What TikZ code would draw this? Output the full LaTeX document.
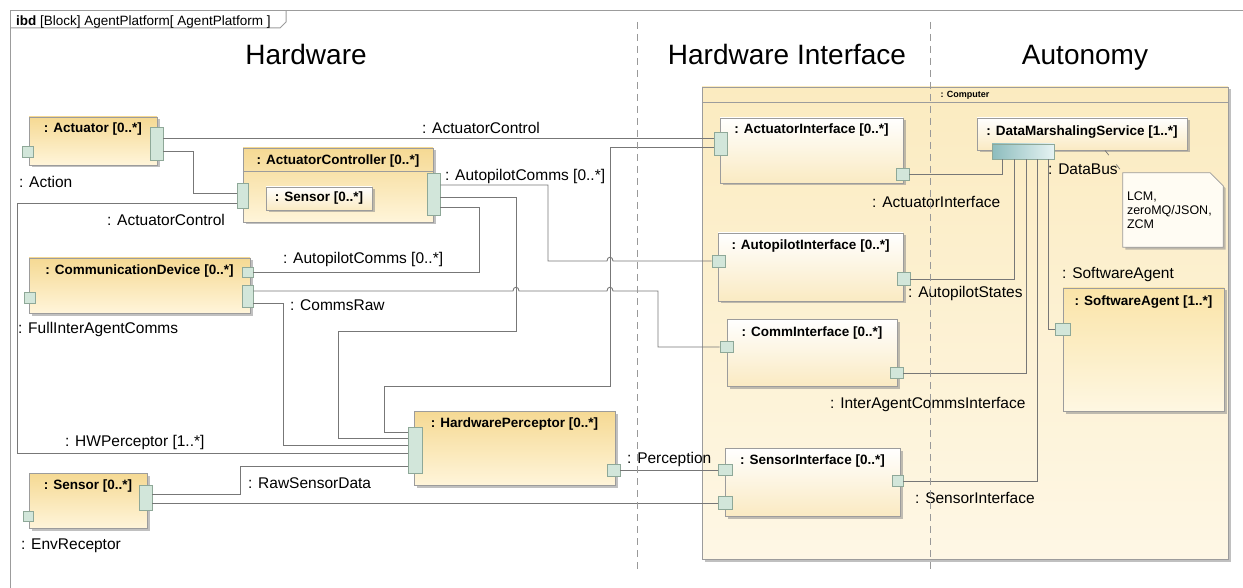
\documentclass[tikz,border=0pt]{standalone}
\usepackage{fontspec}
\setmainfont{Liberation Sans}
\usetikzlibrary{shadows}

\definecolor{edgegray}{HTML}{9C9C9C}
\definecolor{wiregray}{HTML}{777777}
\definecolor{hwtop}{HTML}{F5D993}
\definecolor{hwbottom}{HTML}{FFF5DA}
\definecolor{swtop}{HTML}{FAE4A8}
\definecolor{swbottom}{HTML}{FEF7E2}
\definecolor{comptop}{HTML}{FBEBC0}
\definecolor{compbottom}{HTML}{FEF7E5}
\definecolor{iftop}{HTML}{FFFFFF}
\definecolor{ifbottom}{HTML}{FAEAC2}
\definecolor{portfill}{HTML}{D2E6DA}
\definecolor{portedge}{HTML}{8EA898}
\definecolor{busdark}{HTML}{8CBCBD}
\definecolor{buslight}{HTML}{E6F3F3}
\definecolor{notefill}{HTML}{FFFCF3}

\tikzset{
  diagframe/.style={draw=edgegray, line width=1pt},
  divider/.style={draw=gray!80, line width=0.8pt, dash pattern=on 7pt off 5pt},
  boxshadow/.style={drop shadow={shadow xshift=2.5pt, shadow yshift=-2.5pt, fill=black!45, opacity=0.55}},
  hwblock/.style={draw=edgegray, line width=0.8pt, top color=hwtop, bottom color=hwbottom, boxshadow, inner sep=0pt},
  swblock/.style={draw=edgegray, line width=0.8pt, top color=swtop, bottom color=swbottom, boxshadow, inner sep=0pt},
  ifblock/.style={draw=edgegray, line width=0.8pt, top color=iftop, bottom color=ifbottom, boxshadow, inner sep=0pt},
  compblock/.style={draw=edgegray, line width=0.8pt, top color=comptop, bottom color=compbottom, boxshadow, inner sep=0pt},
  port/.style={draw=portedge, fill=portfill, line width=0.6pt, minimum width=11, minimum height=11, inner sep=0pt},
  busport/.style={draw=portedge, left color=busdark, right color=buslight, line width=0.6pt, inner sep=0pt},
  wire/.style={draw=wiregray, line width=0.9pt},
  blocktitle/.style={anchor=base, inner sep=0pt, font=\bfseries\fontsize{13.5}{16}\selectfont},
  lbl/.style={anchor=base west, inner sep=0pt, font=\fontsize{15.5}{18}\selectfont},
  section/.style={anchor=base, inner sep=0pt, font=\fontsize{28}{32}\selectfont},
}

\begin{document}
\begin{tikzpicture}[x=1pt, y=-1pt]
  \useasboundingbox (0,0) rectangle (1243,588);

  % frame and tab
  \draw[diagframe] (10,588) -- (10,11) -- (1243,11);
  \draw[diagframe] (10,28) -- (280,28) -- (286,22) -- (286,11);
  \node[anchor=base west, inner sep=0pt, font=\fontsize{13.5}{16}\selectfont] (tab) at (16,25.5)
    {\textbf{ibd} [Block] AgentPlatform[ AgentPlatform ]};

  % column headings
  \node[section] (hw) at (306,65) {Hardware};
  \node[section] (hwif) at (787,65) {Hardware Interface};
  \node[section] (auto) at (1085,65) {Autonomy};

  % computer part
  \node[compblock, minimum width=526, minimum height=472] (computer) at (965,323) {};
  \draw[draw=edgegray, line width=0.8pt] (computer.west |- 0,102) -- (computer.east |- 0,102);
  \node[anchor=base, inner sep=0pt, font=\bfseries\fontsize{9}{11}\selectfont] at ([yshift=-11]computer.north) {: Computer};

  % hardware parts
  \node[hwblock, minimum width=128, minimum height=48] (actuator) at (93,141) {};
  \node[blocktitle] at ([yshift=-16]actuator.north) {: Actuator [0..*]};
  \node[hwblock, minimum width=190, minimum height=74] (actctrl) at (338,185) {};
  \draw[draw=edgegray, line width=0.8pt] (actctrl.west |- 0,171) -- (actctrl.east |- 0,171);
  \node[blocktitle] at ([yshift=-16.5]actctrl.north) {: ActuatorController [0..*]};
  \node[ifblock, minimum width=106, minimum height=23, font=\bfseries\fontsize{13.5}{16}\selectfont] (ctrlsensor) at (319,198.5) {: Sensor [0..*]};
  \node[hwblock, minimum width=221, minimum height=55] (commdev) at (139.5,285.5) {};
  \node[blocktitle] at ([yshift=-16.5]commdev.north) {: CommunicationDevice [0..*]};
  \node[hwblock, minimum width=201, minimum height=74] (hwperc) at (514.5,448) {};
  \node[blocktitle] at ([yshift=-16.5]hwperc.north) {: HardwarePerceptor [0..*]};
  \node[hwblock, minimum width=118, minimum height=55] (sensor) at (88,500.5) {};
  \node[blocktitle] at ([yshift=-16.5]sensor.north) {: Sensor [0..*]};

  % interface parts
  \node[ifblock, minimum width=183, minimum height=65] (actif) at (811.5,150.5) {};
  \node[blocktitle] at ([yshift=-15.5]actif.north) {: ActuatorInterface [0..*]};
  \node[ifblock, minimum width=185, minimum height=68] (apif) at (810.5,267) {};
  \node[blocktitle] at ([yshift=-16.5]apif.north) {: AutopilotInterface [0..*]};
  \node[ifblock, minimum width=170, minimum height=67] (commif) at (812,352.5) {};
  \node[blocktitle] at ([yshift=-17.5]commif.north) {: CommInterface [0..*]};
  \node[ifblock, minimum width=175, minimum height=68] (sensif) at (812.5,482) {};
  \node[blocktitle] at ([yshift=-16.5]sensif.north) {: SensorInterface [0..*]};

  % autonomy parts
  \node[ifblock, minimum width=210, minimum height=32] (dms) at (1082,134) {};
  \node[blocktitle] at ([yshift=-17.5]dms.north) {: DataMarshalingService [1..*]};
  \node[swblock, minimum width=161, minimum height=123] (swagent) at (1143.5,349.5) {};
  \node[blocktitle] at ([yshift=-17.5]swagent.north) {: SoftwareAgent [1..*]};

  % note on the data bus
  \node[minimum width=100, minimum height=74, inner sep=0pt] (note) at (1173,210) {};
  \filldraw[draw=edgegray, fill=notefill, line width=0.8pt, boxshadow]
    (note.south west) -- (note.north west) -- ([xshift=-13]note.north east)
    -- ([yshift=-13]note.north east) -- (note.south east) -- cycle;
  \node[anchor=north west, inner sep=0pt, align=left, font=\fontsize{12.5}{14}\selectfont] (notetext)
    at ([xshift=4, yshift=-19]note.north west) {LCM,\\zeroMQ/JSON,\\ZCM};

  % ports
  \node[port] (pActL) at (28,152) {};
  \node[port, minimum width=13, minimum height=33] (pActR) at (156.5,143.5) {};
  \node[port, minimum height=25] (pCtrlL) at (242.5,195.5) {};
  \node[port, minimum width=13, minimum height=42] (pCtrlR) at (433.5,194) {};
  \node[port, minimum height=10] (pCommT) at (247.5,272) {};
  \node[port, minimum height=22] (pCommB) at (247.5,296) {};
  \node[port] (pCommL) at (29.5,297.5) {};
  \node[port, minimum width=14, minimum height=46] (pHwL) at (415,450) {};
  \node[port, minimum width=13, minimum height=12] (pHwR) at (613.5,470) {};
  \node[port, minimum width=13, minimum height=25] (pSensR) at (145.5,497.5) {};
  \node[port, minimum width=10, minimum height=10] (pSensL) at (28.5,516) {};
  \node[port, minimum width=13, minimum height=23] (pAiL) at (720.5,143.5) {};
  \node[port, minimum width=13, minimum height=12] (pAiR) at (902.5,174) {};
  \node[port, minimum width=13, minimum height=12] (pApL) at (718.5,261) {};
  \node[port, minimum width=13, minimum height=13] (pApR) at (903.5,279) {};
  \node[port, minimum width=13] (pCiL) at (726.5,347) {};
  \node[port, minimum width=13] (pCiR) at (896.5,373) {};
  \node[port, minimum width=14] (pSiL1) at (725,470) {};
  \node[port, minimum width=14, minimum height=13] (pSiL2) at (725,503) {};
  \node[port] (pSiR) at (897.5,481) {};
  \node[busport, minimum width=62, minimum height=15] (pDms) at (1023,151.5) {};
  \node[port, minimum width=15, minimum height=12] (pSw) at (1062.5,329) {};

  % connectors
  \draw[wire] (pActR.east |- 0,138) -- (pAiL.west |- 0,138);
  \draw[wire] (pActR.east |- 0,151) -| (193,193) -- (pCtrlL.west |- 0,193);
  \draw[wire] (pCtrlL.west |- 0,203) -| (17,453) -- (pHwL.west |- 0,453);
  \draw[wire] (pCtrlR.east |- 0,185) -| (548,261) -- (607,261)
    .. controls (607,256) and (613,256) .. (613,261) -- (pApL.west);
  \draw[wire] (pCtrlR.east |- 0,197) -| (516,331) -| (338,438) -- (pHwL.west |- 0,438);
  \draw[wire] (pCtrlR.east |- 0,207) -| (479,272) -- (pCommT.east);
  \draw[wire] (pCommB.east |- 0,291) -- (513,291)
    .. controls (513,286) and (519,286) .. (519,291) -- (607,291)
    .. controls (607,286) and (613,286) .. (613,291) -| (658,347) -- (pCiL.west);
  \draw[wire] (pCommB.east |- 0,303) -| (283,445) -- (pHwL.west |- 0,445);
  \draw[wire] (pAiL.west |- 0,147) -| (610,386) -| (384,432) -- (pHwL.west |- 0,432);
  \draw[wire] (pSensR.east |- 0,494) -| (240,466) -- (pHwL.west |- 0,466);
  \draw[wire] (pSensR.east |- 0,503) -- (pSiL2.west);
  \draw[wire] (pHwR.east) -- (pSiL1.west);
  \draw[wire] (pAiR.east) -| ([xshift=-21]pDms.south);
  \draw[wire] (pApR.east) -| ([xshift=-9]pDms.south);
  \draw[wire] (pCiR.east) -| ([xshift=3]pDms.south);
  \draw[wire] (pSiR.east) -| ([xshift=14]pDms.south);
  \draw[wire] ([xshift=25]pDms.south) |- (pSw.west);
  \draw[wire, line width=0.7pt, dash pattern=on 6pt off 12pt] ([xshift=23]dms.south) -- (note.north west);

  % connector and port labels
  \node[lbl] at (422,134) {: ActuatorControl};
  \node[lbl] at (445,181) {: AutopilotComms [0..*]};
  \node[lbl] at (19,188) {: Action};
  \node[lbl] at (107,226) {: ActuatorControl};
  \node[lbl] at (283,264) {: AutopilotComms [0..*]};
  \node[lbl] at (290,310) {: CommsRaw};
  \node[lbl] at (18,334) {: FullInterAgentComms};
  \node[lbl] at (65,446) {: HWPerceptor [1..*]};
  \node[lbl] at (248,488) {: RawSensorData};
  \node[lbl] at (21,549) {: EnvReceptor};
  \node[lbl] at (627,463) {: Perception};
  \node[lbl] at (872,208) {: ActuatorInterface};
  \node[lbl] at (908,298) {: AutopilotStates};
  \node[lbl] at (830,408) {: InterAgentCommsInterface};
  \node[lbl] at (915,503) {: SensorInterface};
  \node[lbl] at (1048,175) {: DataBus};
  \node[lbl] at (1062,279) {: SoftwareAgent};

  % column dividers
  \draw[divider] (637,22) -- (637,572);
  \draw[divider] (930,22) -- (930,572);
\end{tikzpicture}
\end{document}
